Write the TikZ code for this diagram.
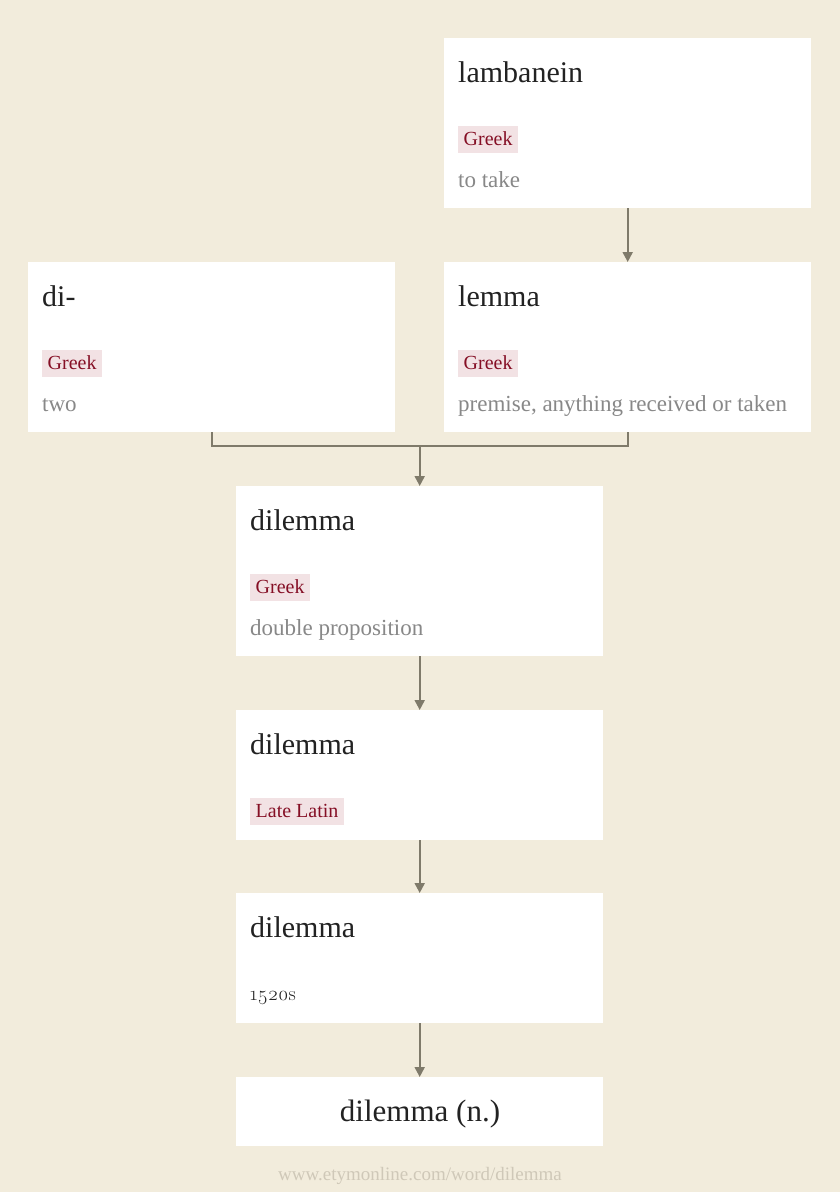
\documentclass[tikz,border=0pt]{standalone}
\usepackage{fontspec}
\setmainfont{Liberation Serif}
\newfontfamily\lmfont[Numbers=OldStyle]{Latin Modern Roman}
\usetikzlibrary{arrows.meta}
\definecolor{bgc}{HTML}{F2ECDC}
\definecolor{tagbg}{HTML}{F2E2E4}
\definecolor{tagfg}{HTML}{850F25}
\definecolor{gloss}{HTML}{888888}
\definecolor{ttl}{HTML}{222222}
\definecolor{conn}{HTML}{7F7A6A}
\definecolor{foot}{HTML}{CFC8B8}
\tikzset{
  box/.style={fill=white, draw=none, anchor=north west, inner sep=0pt, minimum width=367pt, minimum height=170pt},
  sbox/.style={box, minimum height=130pt},
  title/.style={anchor=base west, inner sep=0pt, text=ttl, font=\fontsize{30}{32}\selectfont},
  tag/.style={anchor=base west, fill=tagbg, text=tagfg, inner xsep=5.5pt, inner ysep=5pt, text height=14pt, text depth=3pt, font=\fontsize{20}{22}\selectfont},
  glosstext/.style={anchor=base west, inner sep=0pt, text=gloss, font=\fontsize{23}{25}\selectfont},
  line/.style={draw=conn, line width=2pt},
  arr/.style={line, -{Triangle[width=10pt,length=10pt]}}
}
\begin{document}
\begin{tikzpicture}[x=1pt,y=-1pt]
\fill[bgc] (0,0) rectangle (840,1192);
\useasboundingbox (0,0) rectangle (840,1192);

% lambanein
\node[box] (lamb) at (444,38) {};
\node[title] (lambT) at (458,82) {lambanein};
\node[tag] (lambG) at (458,145) {Greek};
\node[glosstext] (lambD) at (458,187) {to take};

% di-
\node[box] (di) at (28,262) {};
\node[title] (diT) at (42,306) {di-};
\node[tag] (diG) at (42,369) {Greek};
\node[glosstext] (diD) at (42,411) {two};

% lemma
\node[box] (lemma) at (444,262) {};
\node[title] (lemmaT) at (458,306) {lemma};
\node[tag] (lemmaG) at (458,369) {Greek};
\node[glosstext] (lemmaD) at (458,411) {premise, anything received or taken};

% dilemma Greek
\node[box] (dg) at (236,486) {};
\node[title] (dgT) at (250,530) {dilemma};
\node[tag] (dgG) at (250,593) {Greek};
\node[glosstext] (dgD) at (250,635) {double proposition};

% dilemma Late Latin
\node[sbox] (dl) at (236,710) {};
\node[title] (dlT) at (250,754) {dilemma};
\node[tag] (dlG) at (250,817) {Late Latin};

% dilemma 1520s
\node[sbox] (de) at (236,893) {};
\node[title] (deT) at (250,937) {dilemma};
\node[anchor=base west, inner sep=0pt, text=ttl, font=\lmfont\fontsize{20}{22}\selectfont] (deD) at (250,1000) {1520s};

% dilemma (n.)
\node[box, minimum height=69pt] (dn) at (236,1077) {};
\node[anchor=base, inner sep=0pt, text=ttl, font=\fontsize{31}{33}\selectfont] (dnT) at (420,1121) {dilemma (n.)};

% footer
\node[anchor=base, inner sep=0pt, text=foot, font=\fontsize{19}{21}\selectfont] (foot) at (420,1180) {www.etymonline.com/word/dilemma};

% connectors
\draw[arr] (lamb.south) -- (lemma.north);
\draw[line] (di.south) -- ++(0,14) coordinate (j) -| (lemma.south);
\draw[arr] (dg.north |- j) -- (dg.north);
\draw[arr] (dg.south) -- (dl.north);
\draw[arr] (dl.south) -- (de.north);
\draw[arr] (de.south) -- (dn.north);
\end{tikzpicture}
\end{document}
